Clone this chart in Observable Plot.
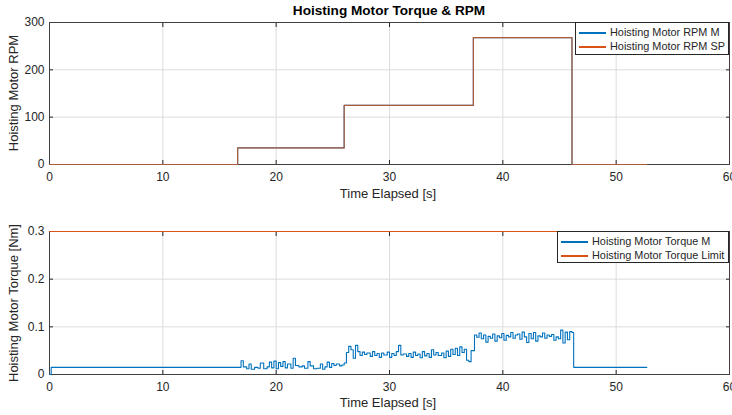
<!DOCTYPE html>
<html><head><meta charset="utf-8">
<script src="https://cdn.jsdelivr.net/npm/d3@7"></script>
<script src="https://cdn.jsdelivr.net/npm/@observablehq/plot@0.6"></script>
<style>
body{margin:0;background:#fff;font-family:"Liberation Sans",Arial,sans-serif;color:#262626;}
#wrap{position:relative;width:732px;height:415px;overflow:hidden;background:#fff;}
.abs{position:absolute;white-space:nowrap;}
.title{font-weight:bold;font-size:13.6px;color:#000;}
.xl{font-size:13px;transform:translateX(-50%);}
.yl{font-size:13px;transform-origin:0 0;transform:rotate(-90deg) translateX(-50%);}
.legend{background:#fff;border:1px solid #262626;font-family:"Liberation Sans",Arial,sans-serif;font-size:10.9px;box-sizing:border-box;}
.legend .row{position:absolute;left:3px;height:13px;line-height:13px;white-space:nowrap;}
.legend .sw{position:absolute;left:0;top:6px;width:27px;height:2px;}
.legend .tx{position:absolute;left:31px;top:0;}
</style></head><body><div id="wrap"></div>
<script>
// ---- data ----
const rpmTime = [0, 16.6, 26.0, 37.4, 46.1, 52.7];
const rpmMeasured = [0, 35, 125, 268, 0, 0];
const rpmSetpoint = [0, 35, 125, 268, 0, 0];

const torqueTime = [0, 0.15, 16.9, 17.1, 17.4, 17.6, 17.8, 18.1, 18.4, 18.6, 18.9, 19.2, 19.4, 19.6, 19.8, 20.0, 20.2, 20.4, 20.6, 20.8, 21.0, 21.3, 21.5, 21.7, 22.0, 22.3, 22.5, 22.8, 23.0, 23.3, 23.6, 23.9, 24.1, 24.3, 24.5, 24.7, 24.9, 25.1, 25.3, 25.6, 25.8, 26.0,
  26.2, 26.4, 26.6, 26.8, 27.0, 27.2, 27.4, 27.6, 27.8, 28.0, 28.3, 28.5, 28.7, 28.9, 29.1, 29.3, 29.5, 29.8, 30.0, 30.2, 30.4, 30.6, 30.8, 31.0, 31.2, 31.5, 31.7, 31.9, 32.1, 32.3, 32.5, 32.7, 32.9, 33.1, 33.3, 33.5, 33.7, 33.9, 34.1, 34.3, 34.6, 34.8, 35.0, 35.2, 35.4, 35.6, 35.8, 36.0, 36.2, 36.4, 36.6, 36.8, 37.0, 37.2,
  37.5, 37.7, 37.9, 38.1, 38.3, 38.5, 38.7, 38.9, 39.1, 39.3, 39.5, 39.7, 39.9, 40.1, 40.3, 40.5, 40.7, 40.9, 41.1, 41.3, 41.5, 41.7, 41.9, 42.1, 42.3, 42.5, 42.7, 42.9, 43.1, 43.3, 43.5, 43.7, 43.9, 44.1, 44.3, 44.5, 44.7, 44.9, 45.1, 45.3, 45.5, 45.7, 45.9, 46.1, 46.25, 52.7];
const torqueMeasured = [0, 0.015, 0.029, 0.016, 0.012, 0.022, 0.011, 0.015, 0.013, 0.024, 0.012, 0.016, 0.026, 0.014, 0.028, 0.012, 0.025, 0.017, 0.027, 0.014, 0.022, 0.013, 0.034, 0.019, 0.016, 0.018, 0.013, 0.027, 0.018, 0.012, 0.013, 0.022, 0.011, 0.016, 0.026, 0.015, 0.023, 0.019, 0.022, 0.018, 0.020, 0.024,
  0.046, 0.059, 0.052, 0.034, 0.061, 0.048, 0.040, 0.047, 0.042, 0.045, 0.038, 0.048, 0.040, 0.044, 0.036, 0.045, 0.041, 0.047, 0.036, 0.044, 0.040, 0.048, 0.061, 0.041, 0.043, 0.038, 0.044, 0.036, 0.047, 0.040, 0.043, 0.035, 0.048, 0.039, 0.044, 0.036, 0.052, 0.041, 0.046, 0.040, 0.045, 0.035, 0.049, 0.038, 0.053, 0.042, 0.055, 0.040, 0.058, 0.046, 0.053, 0.030, 0.027, 0.050,
  0.083, 0.078, 0.087, 0.075, 0.083, 0.068, 0.080, 0.076, 0.085, 0.070, 0.081, 0.077, 0.086, 0.072, 0.082, 0.079, 0.088, 0.076, 0.083, 0.085, 0.074, 0.089, 0.079, 0.067, 0.086, 0.075, 0.088, 0.070, 0.081, 0.079, 0.087, 0.076, 0.083, 0.080, 0.084, 0.072, 0.079, 0.075, 0.093, 0.066, 0.089, 0.073, 0.090, 0.088, 0.015, 0.015];
const torqueLimitTime = [0, 52.7];
const torqueLimit = [0.3, 0.3];

const xTicks = [0, 10, 20, 30, 40, 50, 60];
const rpmTicks = [0, 100, 200, 300];
const torqueTicks = [0, 0.1, 0.2, 0.3];

const titleText = "Hoisting Motor Torque & RPM";
const xLabel = "Time Elapsed [s]";
const rpmLabel = "Hoisting Motor RPM";
const torqueLabel = "Hoisting Motor Torque [Nm]";
const rpmSeries = ["Hoisting Motor RPM M", "Hoisting Motor RPM SP"];
const torqueSeries = ["Hoisting Motor Torque M", "Hoisting Motor Torque Limit"];

const BLUE = "#0072BD", ORANGE = "#D95319";

// ---- build ----
const rpmM = rpmTime.map((t, i) => ({t, v: rpmMeasured[i]}));
const rpmSP = rpmTime.map((t, i) => ({t, v: rpmSetpoint[i]}));
const tqM = torqueTime.map((t, i) => ({t, v: torqueMeasured[i]}));
const tqL = torqueLimitTime.map((t, i) => ({t, v: torqueLimit[i]}));

function axes(yTicks, fmt) {
  const tc = "#262626";
  return [
    Plot.gridX(xTicks, {stroke: "#dcdcdc", strokeOpacity: 1}),
    Plot.gridY(yTicks, {stroke: "#dcdcdc", strokeOpacity: 1}),
    Plot.axisX(xTicks, {anchor: "bottom", tickSize: -4, tickPadding: 12, label: null, color: tc, fontSize: 12}),
    Plot.axisX(xTicks, {anchor: "top", tickSize: -4, tickFormat: () => "", label: null, color: tc}),
    Plot.axisY(yTicks, {anchor: "left", tickSize: -4, tickPadding: 9, label: null, color: tc, fontSize: 12, tickFormat: fmt}),
    Plot.axisY(yTicks, {anchor: "right", tickSize: -4, tickFormat: () => "", label: null, color: tc}),
    Plot.frame({stroke: "#404040", strokeWidth: 1})
  ];
}

const common = {width: 732, marginLeft: 49, marginRight: 3, style: {fontFamily: "Liberation Sans, Arial, sans-serif", background: "transparent", overflow: "visible"}};

const p1 = Plot.plot({
  ...common, height: 207, marginTop: 22, marginBottom: 43,
  x: {domain: [0, 60]}, y: {domain: [0, 300]},
  marks: [
    ...axes(rpmTicks, d => d),
    Plot.line(rpmM, {x: "t", y: "v", curve: "step-after", stroke: BLUE, strokeWidth: 1.2}),
    Plot.line(rpmSP, {x: "t", y: "v", curve: "step-after", stroke: ORANGE, strokeWidth: 1.2, strokeOpacity: 0.8})
  ]
});

const p2 = Plot.plot({
  ...common, height: 208, marginTop: 24, marginBottom: 41,
  x: {domain: [0, 60]}, y: {domain: [0, 0.3]},
  marks: [
    ...axes(torqueTicks, d => d === 0 ? "0" : d3.format(".1f")(d)),
    Plot.line(tqM, {x: "t", y: "v", curve: "step-after", stroke: BLUE, strokeWidth: 1.1}),
    Plot.line(tqL, {x: "t", y: "v", curve: "step-after", stroke: ORANGE, strokeWidth: 1.2})
  ]
});

const wrap = document.getElementById("wrap");
for (const [p, top] of [[p1, 0], [p2, 207]]) {
  p.style.position = "absolute";
  p.style.left = "0px";
  p.style.top = top + "px";
  wrap.appendChild(p);
}

function addText(cls, text, left, top) {
  const d = document.createElement("div");
  d.className = "abs " + cls;
  d.textContent = text;
  d.style.left = left + "px";
  d.style.top = top + "px";
  wrap.appendChild(d);
  return d;
}
const t = addText("title", titleText, 0, 3);
t.style.width = "778px"; t.style.textAlign = "center";
addText("xl", xLabel, 388, 186);
addText("xl", xLabel, 388, 395);
addText("yl", rpmLabel, 6, 93);
addText("yl", torqueLabel, 6, 303);

function legend(names, colors, left, top, width, height) {
  const box = document.createElement("div");
  box.className = "abs legend";
  Object.assign(box.style, {left: left + "px", top: top + "px", width: width + "px", height: height + "px"});
  names.forEach((n, i) => {
    const r = document.createElement("div");
    r.className = "row";
    r.style.top = (3 + i * 14) + "px";
    r.style.width = (width - 8) + "px";
    const sw = document.createElement("div");
    sw.className = "sw";
    sw.style.background = colors[i];
    const tx = document.createElement("div");
    tx.className = "tx";
    tx.textContent = n;
    r.appendChild(sw);
    r.appendChild(tx);
    box.appendChild(r);
  });
  wrap.appendChild(box);
}
legend(rpmSeries, [BLUE, ORANGE], 575, 22, 154, 33);
legend(torqueSeries, [BLUE, ORANGE], 557, 231, 172, 32);
</script></body></html>
